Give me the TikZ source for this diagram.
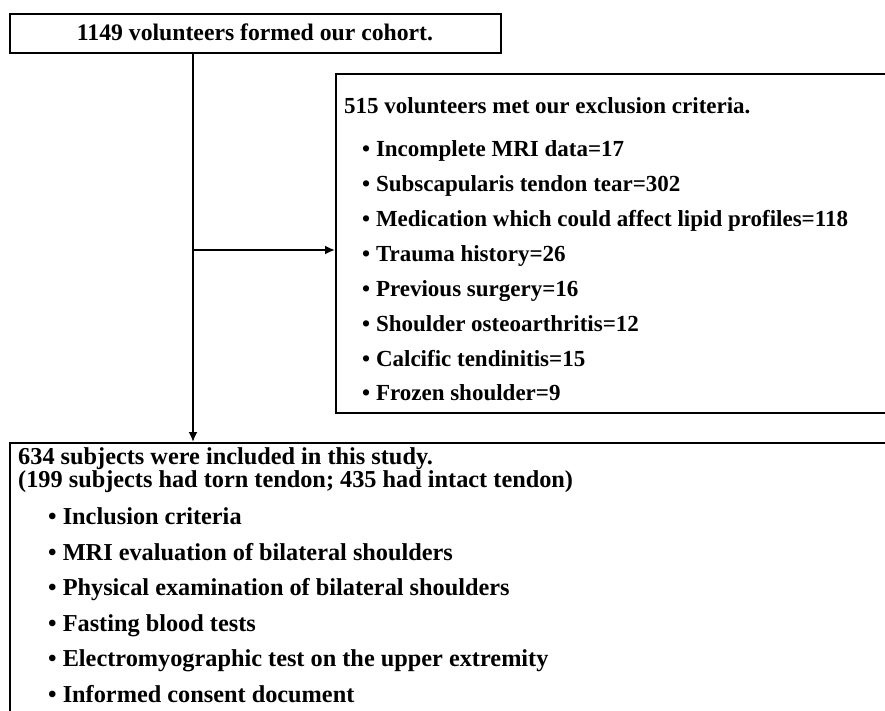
\documentclass[tikz,border=0pt]{standalone}
\usepackage{fontspec}
\setmainfont{Liberation Serif}
\usetikzlibrary{arrows.meta}
\begin{document}
\begin{tikzpicture}[x=1pt,y=-1pt,
  boxline/.style={draw=black, line width=2pt},
  conn/.style={draw=black, line width=1.8pt, -{Latex[length=10pt,width=9pt]}},
  txt/.style={anchor=base west, inner sep=0pt, font=\fontsize{23}{23}\selectfont\bfseries},
  btxt/.style={anchor=base west, inner sep=0pt, font=\fontsize{24.3}{24.3}\selectfont\bfseries},
  ctxt/.style={anchor=base, inner sep=0pt, font=\fontsize{23.7}{23.7}\selectfont\bfseries}]
\useasboundingbox (0,0) rectangle (885,711);
\clip (0,0) rectangle (885,711);
\fill[white] (0,0) rectangle (885,711);
% boxes
\node[boxline, anchor=north west, minimum width=491pt, minimum height=39pt, inner sep=0pt] (cohort) at (9,13) {};
\node[boxline, anchor=north west, minimum width=560pt, minimum height=339pt, inner sep=0pt] (excl) at (335,73) {};
\node[boxline, anchor=north west, minimum width=900pt, minimum height=300pt, inner sep=0pt] (incl) at (9,442) {};
% texts
\node[ctxt] (t0) at (255,40.5) {1149 volunteers formed our cohort.};
\node[txt] (e0) at (344,114) {515 volunteers met our exclusion criteria.};
\node[txt] (e1) at (362,157) {• Incomplete MRI data=17};
\node[txt] (e2) at (362,192) {• Subscapularis tendon tear=302};
\node[txt] (e3) at (362,226.5) {• Medication which could affect lipid profiles=118};
\node[txt] (e4) at (362,261) {• Trauma history=26};
\node[txt] (e5) at (362,296) {• Previous surgery=16};
\node[txt] (e6) at (362,331) {• Shoulder osteoarthritis=12};
\node[txt] (e7) at (362,366) {• Calcific tendinitis=15};
\node[txt] (e8) at (362,400) {• Frozen shoulder=9};
\node[btxt, align=left, font=\fontsize{24.3}{19.5}\selectfont\bfseries] (i0) at (18,487.5) {634 subjects were included in this study.\\(199 subjects had torn tendon; 435 had intact tendon)};
\node[btxt] (i1) at (48,524.5) {• Inclusion criteria};
\node[btxt] (i2) at (48,560) {• MRI evaluation of bilateral shoulders};
\node[btxt] (i3) at (48,595.5) {• Physical examination of bilateral shoulders};
\node[btxt] (i4) at (48,631) {• Fasting blood tests};
\node[btxt] (i5) at (48,666.5) {• Electromyographic test on the upper extremity};
\node[btxt] (i6) at (48,702) {• Informed consent document};
% connectors
\coordinate (split) at (193,250);
\draw[conn] (cohort.south -| split) -- (incl.north -| split);
\draw[conn] (split) -- (split -| excl.west);
\end{tikzpicture}
\end{document}
